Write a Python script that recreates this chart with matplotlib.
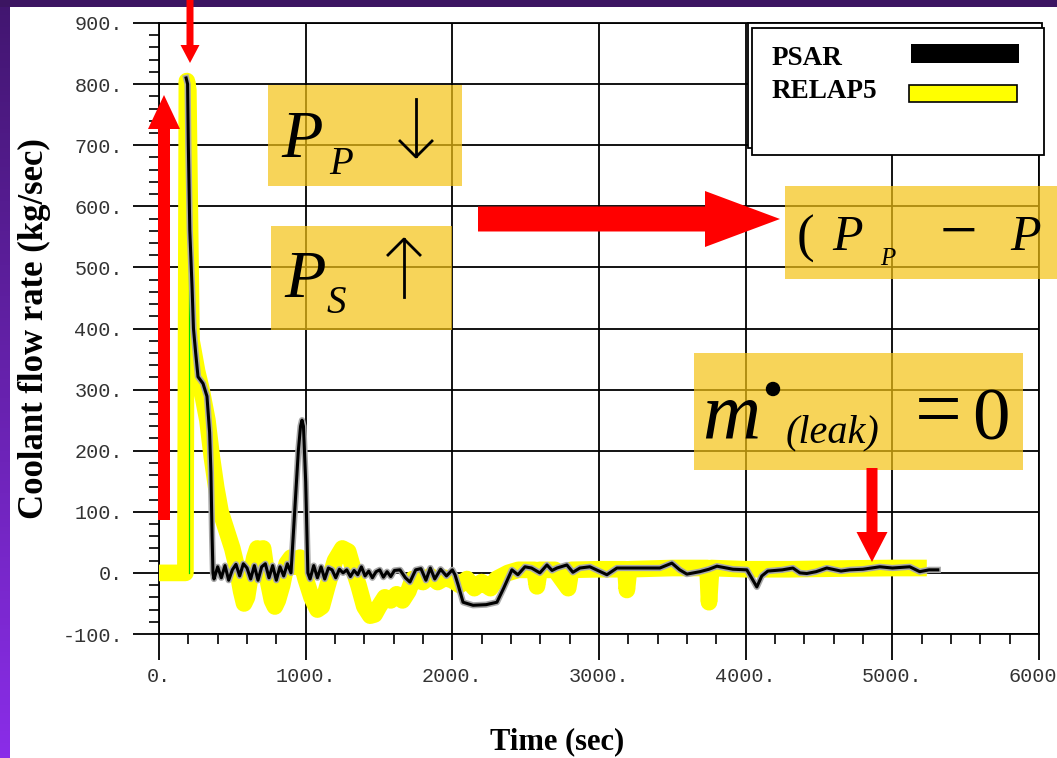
import matplotlib
matplotlib.use("Agg")
import matplotlib.pyplot as plt
import matplotlib.patches as mpatches
import matplotlib.ticker as mticker
import numpy as np

# PSAR calculation (black line)
psar_t = [185, 195, 200, 210, 225, 235, 250, 266, 300, 327, 345, 354, 362, 368,
          375, 400, 425, 450, 475, 500, 525, 550, 575, 600, 625, 650, 675, 700,
          725, 750, 775, 800, 825, 850, 875, 900,
          930, 950, 965, 975, 985, 1000, 1015,
          1030, 1055, 1080, 1105, 1130, 1155, 1180, 1205, 1230, 1255, 1280, 1305,
          1330, 1355, 1380, 1405, 1430, 1455, 1480, 1505, 1530, 1555, 1580, 1605,
          1643, 1680, 1711, 1750, 1786, 1820, 1850, 1880, 1920, 1960, 2000, 2018,
          2040, 2073, 2141, 2230, 2304, 2350, 2406, 2447, 2495, 2540, 2597, 2645,
          2680, 2713, 2781, 2822, 2870, 2938, 3000, 3054, 3122, 3250, 3415, 3497,
          3550, 3599, 3688, 3750, 3804, 3913, 4008, 4040, 4076, 4110, 4151, 4250,
          4322, 4370, 4417, 4480, 4553, 4650, 4710, 4800, 4915, 5000, 5119, 5187,
          5250, 5310]
psar_v = [810, 800, 700, 560, 470, 400, 360, 321, 310, 289, 230, 164, 60, 0,
          -10, 10, -8, 12, -12, 5, 14, -5, 15, 8, -10, 12, -12, 10, 15, -8,
          12, -12, 10, -5, 15, 0,
          120, 200, 240, 250, 240, 150, 0,
          -10, 12, -8, 10, -10, 8, 5, -8, 6, 0, 5, -6, 4, -3, 10, -5, 3, -8,
          2, 5, -7, 2, -6, 4,
          5, -8, -15, 5, 7, -12, 8, -10, 6, -5, 5, -3,
          -20, -48, -53, -52, -48, -25, 5, -3, 10, 8, 0, 13,
          4, 8, 13, 1, 8, 10, 3, -3, 8, 8, 8, 16,
          5, -2, 2, 6, 11, 6, 5, -8, -23, -5, 3, 5,
          8, 0, -1, 2, 8, 3, 5, 6, 10, 8, 10, 2,
          5, 5]

# RELAP5 calculation (yellow band)
relap_t = [0, 180, 190, 200, 212, 222, 230, 260, 290, 330, 360, 390, 420, 460,
           500, 530, 560, 580, 600, 620, 650, 670, 690, 710, 740, 770, 790, 810,
           840, 870, 900, 930, 961, 1000, 1040, 1080, 1110, 1150, 1200, 1250,
           1290, 1320, 1360, 1400, 1440, 1470, 1500, 1540, 1580, 1620, 1660,
           1700, 1730, 1800, 1850, 1900, 1950, 2000, 2050, 2100, 2150, 2200,
           2260, 2300, 2380, 2450, 2560, 2577, 2595, 2700, 2790, 2810, 3000,
           3180, 3190, 3205, 3500, 3740, 3750, 3765, 4000, 4300, 4600, 5000, 5235]
relap_v = [0, 0, 805, 790, 560, 380, 370, 330, 300, 250, 190, 140, 100, 70,
           40, 10, -30, -50, -40, -10, 25, 40, 30, 40, -10, -45, -55, -45,
           -20, 15, 25, 10, 25, -10, -40, -60, -55, -20, 20, 40,
           35, 10, -20, -55, -70, -68, -55, -40, -45, -35, -45,
           -30, -10, -15, -5, -15, -8, -12, -20, -10, -25, -15,
           -25, -10, 0, 5, 5, -22, 5, 5, -25, 5, 6,
           6, -28, 6, 8, 8, -48, 8, 6, 6, 7, 8, 8]

# trip marker
trip_t = [205, 205]
trip_v = [0, 800]

W, H = 1057, 758
fig = plt.figure(figsize=(W / 100, H / 100), dpi=100)
fig.patch.set_facecolor("white")

# slide border (purple)
left = fig.add_axes([0, 0, 10 / W, 1])
left.imshow(np.linspace(0, 1, 200).reshape(-1, 1), aspect="auto",
            cmap=matplotlib.colors.LinearSegmentedColormap.from_list("p", ["#421670", "#8a2de8"]),
            extent=[0, 1, 0, 1], origin="upper")
left.axis("off")
top = fig.add_axes([0, 1 - 7 / H, 1, 7 / H])
top.set_facecolor("#3c1562")
top.set_xticks([]); top.set_yticks([])
for s in top.spines.values():
    s.set_visible(False)

ax = fig.add_axes([159 / W, 1 - 634 / H, 880 / W, 611 / H])
ax.plot(relap_t, relap_v, color="#ffff00", lw=12, solid_capstyle="butt", zorder=3)
ax.plot(trip_t, trip_v, color="#00e000", lw=0.9, zorder=4)
ax.plot(psar_t, psar_v, color="#a8a8a8", lw=4.5, zorder=5)
ax.plot(psar_t, psar_v, color="black", lw=2.2, zorder=6)

ax.set_xlim(0, 6000)
ax.set_ylim(-100, 900)
ax.xaxis.set_major_locator(mticker.MultipleLocator(1000))
ax.xaxis.set_minor_locator(mticker.MultipleLocator(200))
ax.yaxis.set_major_locator(mticker.MultipleLocator(100))
ax.yaxis.set_minor_locator(mticker.MultipleLocator(20))
fmt = mticker.FuncFormatter(lambda v, p: f"{v:.0f}.")
ax.xaxis.set_major_formatter(fmt)
ax.yaxis.set_major_formatter(fmt)
ax.tick_params(which="major", direction="out", length=19, width=1.3, color="black",
               labelsize=14.5, labelcolor="#333333")
ax.tick_params(axis="y", which="major", pad=7)
ax.tick_params(axis="x", which="major", pad=5)
ax.tick_params(which="minor", direction="out", length=7, width=1.2, color="black")
for lab in ax.get_xticklabels() + ax.get_yticklabels():
    lab.set_family("Liberation Mono")
ax.grid(True, which="major", color="black", lw=1.3)
ax.set_axisbelow(True)
for s in ax.spines.values():
    s.set_linewidth(1.3)

ax.set_xlabel("Time (sec)", family="Liberation Serif", weight="bold", fontsize=22, va="center")
ax.xaxis.set_label_coords(0.452, -0.177)
ax.set_ylabel("Coolant flow rate (kg/sec)", family="Liberation Serif", weight="bold",
              fontsize=25, va="center")
ax.yaxis.set_label_coords(-0.142, 0.50)

# overlay in pixel coordinates for the slide annotations
ov = fig.add_axes([0, 0, 1, 1])
ov.set_xlim(0, W)
ov.set_ylim(H, 0)
ov.axis("off")

box_c = "#f4c213"
for (x0, y0, x1, y1) in [(268, 85, 462, 186), (271, 226, 452, 330),
                         (785, 186, 1060, 279), (694, 353, 1023, 470)]:
    ov.add_patch(mpatches.Rectangle((x0, y0), x1 - x0, y1 - y0, facecolor=box_c,
                                    alpha=0.7, edgecolor="none"))

serif = "Liberation Serif"
def txt(x, y, s, size, style="italic"):
    ov.text(x, y, s, fontsize=size, family=serif, style=style, va="baseline", ha="left")

txt(281, 157, "P", 49)
txt(329, 174, "P", 28)
txt(284, 297, "P", 49)
txt(327, 313, "S", 28)
# thin arrows in boxes
ov.plot([416, 416], [99, 156], color="black", lw=2)
ov.plot([400, 416, 432], [141, 157, 141], color="black", lw=2)
ov.plot([404, 404], [239, 297], color="black", lw=2)
ov.plot([388, 404, 420], [255, 239, 255], color="black", lw=2)

txt(797, 252, "(", 38, "normal")
txt(832, 250, "P", 36)
txt(880, 265, "P", 18)
txt(940, 252, "\u2212", 48, "normal")
txt(1010, 250, "P", 36)

txt(702, 438, "m", 58)
ov.add_patch(mpatches.Circle((773, 389), 6.5, color="black"))
txt(786, 442, "(leak)", 29)
txt(915, 436, "=", 60, "normal")
txt(972, 440, "0", 54, "normal")

# red arrows
red = "#ff0000"
for (x, y, dx, dy, w, hw, hl) in [(164, 520, 0, -425, 12, 32, 34),
                                  (190, 0, 0, 63, 7, 19, 18),
                                  (478, 219, 302, 0, 25, 56, 75),
                                  (872, 468, 0, 94, 11, 31, 30)]:
    ov.add_patch(mpatches.FancyArrow(x, y, dx, dy, width=w, head_width=hw, head_length=hl,
                                     length_includes_head=True, color=red, lw=0))

# legend panel
ov.add_patch(mpatches.Rectangle((748, 23), 294, 125, facecolor="white", edgecolor="black", lw=1.3))
ov.add_patch(mpatches.Rectangle((752, 28), 292, 127, facecolor="white", edgecolor="black", lw=1.3))
ov.text(772, 65, "PSAR", fontsize=19.5, family=serif, weight="bold", va="baseline")
ov.text(772, 98, "RELAP5", fontsize=19.5, family=serif, weight="bold", va="baseline")
ov.add_patch(mpatches.Rectangle((911, 44), 108, 19, facecolor="black", edgecolor="none"))
ov.add_patch(mpatches.Rectangle((909, 85), 108, 17, facecolor="#ffff00", edgecolor="black", lw=1.2))

fig.savefig("out.png", dpi=100)
